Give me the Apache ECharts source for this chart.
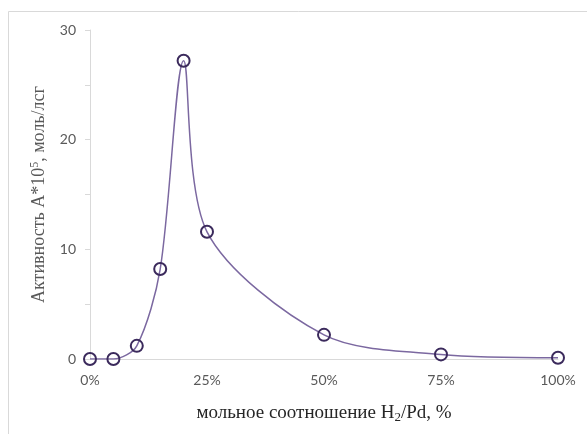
<!DOCTYPE html>
<html><head><meta charset="utf-8">
<script src="https://cdn.jsdelivr.net/npm/echarts@6/dist/echarts.min.js"></script>
<style>html,body{margin:0;padding:0;background:#fff}#c{width:587px;height:434px}</style>
</head><body><div id="c"></div>
<script>
var ratios = [0, 5, 10, 15, 20, 25, 50, 75, 100];
var activity = [0, 0, 1.2, 8.2, 27.2, 11.6, 2.2, 0.42, 0.12];
var xTicks = [0, 25, 50, 75, 100];
var yTicks = [0, 10, 20, 30];

var chart = echarts.init(document.getElementById('c'));
var pts = ratios.map(function (r, i) { return [r, activity[i]]; });
chart.setOption({
  animation: false,
  backgroundColor: '#fff',
  graphic: [{
    type: 'rect', silent: true, z: -1,
    shape: { x: 8.5, y: 11.5, width: 600, height: 440 },
    style: { fill: 'none', stroke: '#d9d9d9', lineWidth: 1 }
  }],
  grid: { left: 90, right: 29, top: 30, bottom: 75 },
  xAxis: {
    type: 'value', min: 0, max: 100, interval: 25,
    axisLine: { show: true, lineStyle: { color: '#d9d9d9' } },
    axisTick: { show: false },
    splitLine: { show: false },
    axisLabel: { color: '#595959', fontFamily: 'Lato', fontSize: 14, margin: 14,
      formatter: function (v) { return xTicks.indexOf(v) >= 0 ? v + '%' : ''; } },
    name: 'мольное соотношение H{sub|2}/Pd, %',
    nameLocation: 'middle', nameGap: 43,
    nameTextStyle: { color: '#262626', fontFamily: 'Liberation Serif', fontSize: 19,
      rich: { sub: { fontFamily: 'Liberation Serif', fontSize: 13, verticalAlign: 'bottom', padding: [9, 0, 0, 0] } } }
  },
  yAxis: {
    type: 'value', min: 0, max: 30, interval: 5,
    axisLine: { show: true, lineStyle: { color: '#d9d9d9' } },
    axisTick: { show: true, length: 5, lineStyle: { color: '#d9d9d9' } },
    splitLine: { show: false },
    axisLabel: { color: '#595959', fontFamily: 'Lato', fontSize: 14, margin: 14,
      formatter: function (v) { return yTicks.indexOf(v) >= 0 ? String(v) : ''; } },
    name: 'Активность A*10{sup|5}, моль/лсг',
    nameLocation: 'middle', nameGap: 40,
    nameTextStyle: { color: '#595959', fontFamily: 'Liberation Serif', fontSize: 18,
      rich: { sup: { fontFamily: 'Liberation Serif', fontSize: 12, verticalAlign: 'top', padding: [0, 0, 9, 0] } } }
  },
  series: [{
    type: 'line',
    data: pts,
    smooth: 0.3,
    symbol: 'circle',
    symbolSize: 12,
    lineStyle: { color: '#7b68a0', width: 1.5 },
    itemStyle: { color: 'rgba(255,255,255,0)', borderColor: '#3b2a5c', borderWidth: 2 }
  }]
});
</script>
</body></html>
